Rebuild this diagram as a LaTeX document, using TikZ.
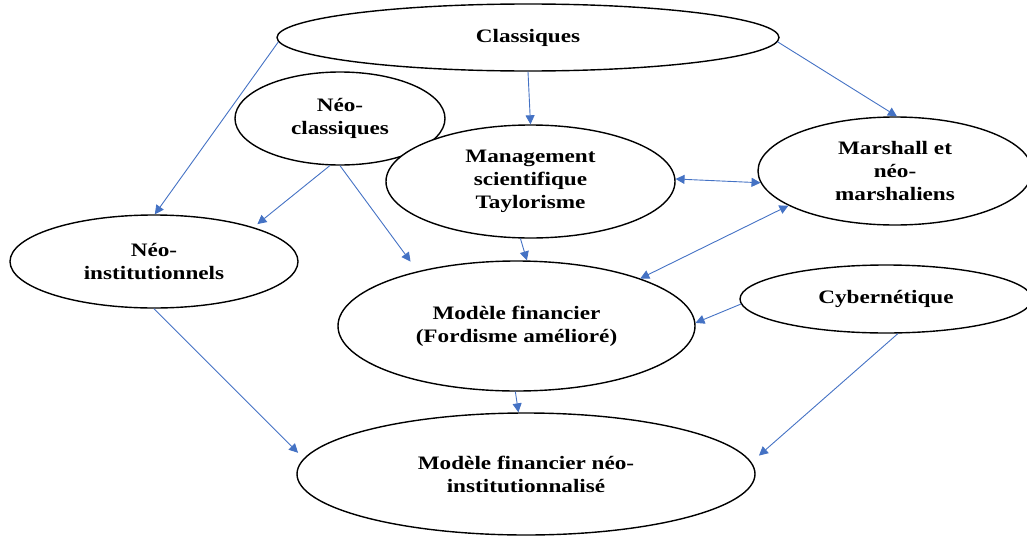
\documentclass[tikz,border=0pt]{standalone}
\usepackage{fontspec}
\setmainfont{Liberation Serif}[FakeStretch=1.22]
\usetikzlibrary{shapes.geometric,arrows.meta}
\definecolor{arrowblue}{HTML}{4472C4}
\begin{document}
\begin{tikzpicture}[x=1pt,y=-1pt,
  oval/.style={ellipse, draw=black, line width=1.4pt, inner sep=0pt, align=center,
    font=\fontsize{19}{23}\selectfont\bfseries},
  tip/.style={Triangle[length=9pt,width=9pt]},
  conn/.style={draw=arrowblue, line width=0.9pt, -{Triangle[length=9pt,width=9pt]}},
  biconn/.style={draw=arrowblue, line width=0.9pt, {Triangle[length=9pt,width=9pt]}-{Triangle[length=9pt,width=9pt]}}]
\useasboundingbox (0,0) rectangle (1027,538);
\clip (0,0) rectangle (1027,538);

\node[oval, minimum width=502pt, minimum height=67pt] (C) at (528,37.5) {Classiques};
\node[oval, minimum width=210pt, minimum height=93pt] (NC) at (340,118.5) {Néo-\\classiques};
\node[oval, minimum width=289pt, minimum height=113pt, fill=white] (M) at (530.5,181.5) {Management\\scientifique\\Taylorisme};
\node[oval, minimum width=274pt, minimum height=108pt] (MA) at (895,171) {Marshall et\\néo-\\marshaliens};
\node[oval, minimum width=288pt, minimum height=93pt] (NI) at (154,261.5) {Néo-\\institutionnels};
\node[oval, minimum width=357pt, minimum height=130pt] (MF) at (516.5,326) {Modèle financier\\(Fordisme amélioré)};
\node[oval, minimum width=292pt, minimum height=68pt] (CY) at (886,299) {Cybernétique};
\node[oval, minimum width=458pt, minimum height=122pt] (B) at (526,474) {Modèle financier néo-\\institutionnalisé};

\draw[conn] (C.181) -- (NI.89);
\draw[conn] (C.270) -- (M.90);
\draw[conn] (C.359) -- (MA.88);
\draw[conn, shorten >=5pt] (NC.258) -- (NI.19);
\draw[conn, shorten >=12pt] (NC.270) -- (MF.151);
\draw[conn] (M.260) -- (MF.81);
\draw[biconn] (M.1) -- (MA.185);
\draw[biconn] (MA.198) -- (MF.21);
\draw[conn] (CY.182) -- (MF.1);
\draw[conn] (MF.269) -- (B.97.5);
\draw[conn, shorten >=8pt] (NI.270) -- (B.176.6);
\draw[conn, shorten >=10pt] (CY.289) -- (B.3.6);
\end{tikzpicture}
\end{document}
